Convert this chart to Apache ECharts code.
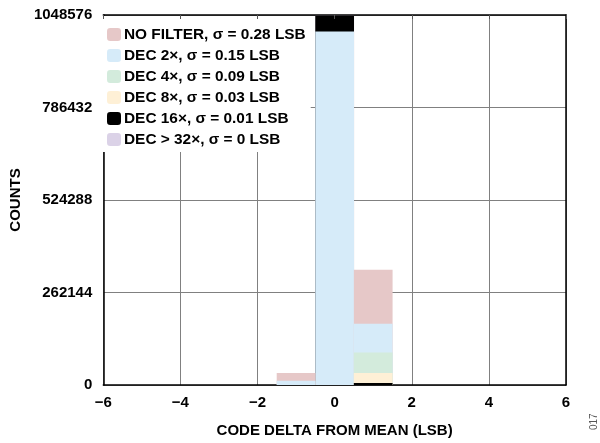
<!DOCTYPE html>
<html>
<head>
<meta charset="utf-8">
<script src="https://cdn.jsdelivr.net/npm/echarts@6/dist/echarts.min.js"></script>
<style>
html,body{margin:0;padding:0;background:#fff;}
#c{width:600px;height:443px;}
</style>
</head>
<body>
<div id="c"></div>
<script>
// ---- data ----
const bins = [-1, 0, 1];
const seriesNames = [
  'NO FILTER, σ = 0.28 LSB',
  'DEC 2×, σ = 0.15 LSB',
  'DEC 4×, σ = 0.09 LSB',
  'DEC 8×, σ = 0.03 LSB',
  'DEC 16×, σ = 0.01 LSB',
  'DEC > 32×, σ = 0 LSB'
];
const noFilter = [34000, null, 326800];
const dec2 = [12200, 1002000, 173700];
const dec4 = [0, null, 92400];
const dec8 = [0, null, 34000];
const dec16 = [0, 1046600, 5700];
const dec32 = [0, 1048576, 0];
const colors = ['#E6C8C8', '#D6EBF9', '#D3EBDC', '#FEF0D6', '#000000', '#DBD2E7'];
const yTicks = [0, 262144, 524288, 786432, 1048576];
const xTicks = [-6, -4, -2, 0, 2, 4, 6];

const values = [noFilter, dec2, dec4, dec8, dec16, dec32];

const gridLeft = 101, gridRight = 34, gridTop = 15, gridBottom = 58;
const plotW = 600 - gridLeft - gridRight;
const barW = plotW / (xTicks[xTicks.length - 1] - xTicks[0]);

// layer for the centre bin (blue drawn on top), then other bins
const centreOrder = [5, 4, 0, 2, 3, 1];
const otherOrder = [0, 1, 2, 3, 4, 5];
const series = [];
function mk(i, pick) {
  const data = [];
  bins.forEach((b, k) => {
    if (pick(b) && values[i][k] != null) data.push([b, values[i][k]]);
  });
  return {
    name: seriesNames[i],
    type: 'bar',
    data: data,
    barWidth: barW,
    barGap: '-100%',
    itemStyle: { color: colors[i] },
    emphasis: { disabled: true },
    animation: false
  };
}
centreOrder.forEach(i => series.push(mk(i, b => b === 0)));
otherOrder.forEach(i => series.push(mk(i, b => b !== 0)));

const font = '"Liberation Sans", Arial, sans-serif';
const fmtX = v => (v < 0 ? '\u2212' + Math.abs(v) : String(v));

const chart = echarts.init(document.getElementById('c'), null, { renderer: 'canvas' });
chart.setOption({
  backgroundColor: '#fff',
  animation: false,
  grid: { left: gridLeft, right: gridRight, top: gridTop, bottom: gridBottom, show: false },
  legend: {
    data: seriesNames.map((n, i) => ({ name: n, itemStyle: { color: colors[i] } })),
    orient: 'vertical',
    left: gridLeft + 1,
    top: gridTop + 1,
    padding: [11, 5, 5, 5],
    itemWidth: 14,
    itemHeight: 13,
    itemGap: 6,
    backgroundColor: '#fff',
    selectedMode: false,
    z: 5,
    textStyle: { fontFamily: font, fontWeight: 'bold', fontSize: 15.4, color: '#000', lineHeight: 15, padding: [0, 0, 0, -2] }
  },
  xAxis: [{
    type: 'value', min: -6, max: 6, interval: 2, position: 'bottom',
    name: 'CODE DELTA FROM MEAN (LSB)', nameLocation: 'middle', nameGap: 38,
    nameTextStyle: { fontFamily: font, fontWeight: 'bold', fontSize: 15, color: '#000' },
    axisLine: { show: true, onZero: false, lineStyle: { color: '#000', width: 1.5 } },
    axisTick: { show: false },
    axisLabel: { fontFamily: font, fontWeight: 'bold', fontSize: 15, color: '#000', margin: 10, formatter: fmtX },
    splitLine: { show: true, lineStyle: { color: '#808080', width: 1 } },
    z: 0
  }, {
    type: 'value', min: -6, max: 6, interval: 2, position: 'top',
    axisLine: { show: true, onZero: false, lineStyle: { color: '#000', width: 1.5 } },
    axisTick: { show: true, inside: true, length: 4, lineStyle: { color: '#555', width: 1 } },
    axisLabel: { show: false },
    splitLine: { show: false },
    z: 6
  }],
  yAxis: [{
    type: 'value', min: 0, max: 1048576, interval: 262144, position: 'left',
    name: 'COUNTS', nameLocation: 'middle', nameGap: 80,
    nameTextStyle: { fontFamily: font, fontWeight: 'bold', fontSize: 15, color: '#000' },
    axisLine: { show: true, onZero: false, lineStyle: { color: '#000', width: 1.5 } },
    axisTick: { show: false },
    axisLabel: { fontFamily: font, fontWeight: 'bold', fontSize: 15, color: '#000', margin: 11,
      formatter: v => String(yTicks[Math.round(v / 262144)]) },
    splitLine: { show: true, lineStyle: { color: '#808080', width: 1 } },
    z: 0
  }, {
    type: 'value', min: 0, max: 1048576, interval: 262144, position: 'right',
    axisLine: { show: true, onZero: false, lineStyle: { color: '#000', width: 1.5 } },
    axisTick: { show: false },
    axisLabel: { show: false },
    splitLine: { show: false },
    z: 6
  }],
  graphic: [{
    type: 'text', x: 594, y: 430, rotation: Math.PI / 2,
    style: { text: '017', font: '10px "Liberation Sans", Arial, sans-serif', fill: '#555', textAlign: 'left', textVerticalAlign: 'middle' }
  }],
  series: series
});
</script>
</body>
</html>
